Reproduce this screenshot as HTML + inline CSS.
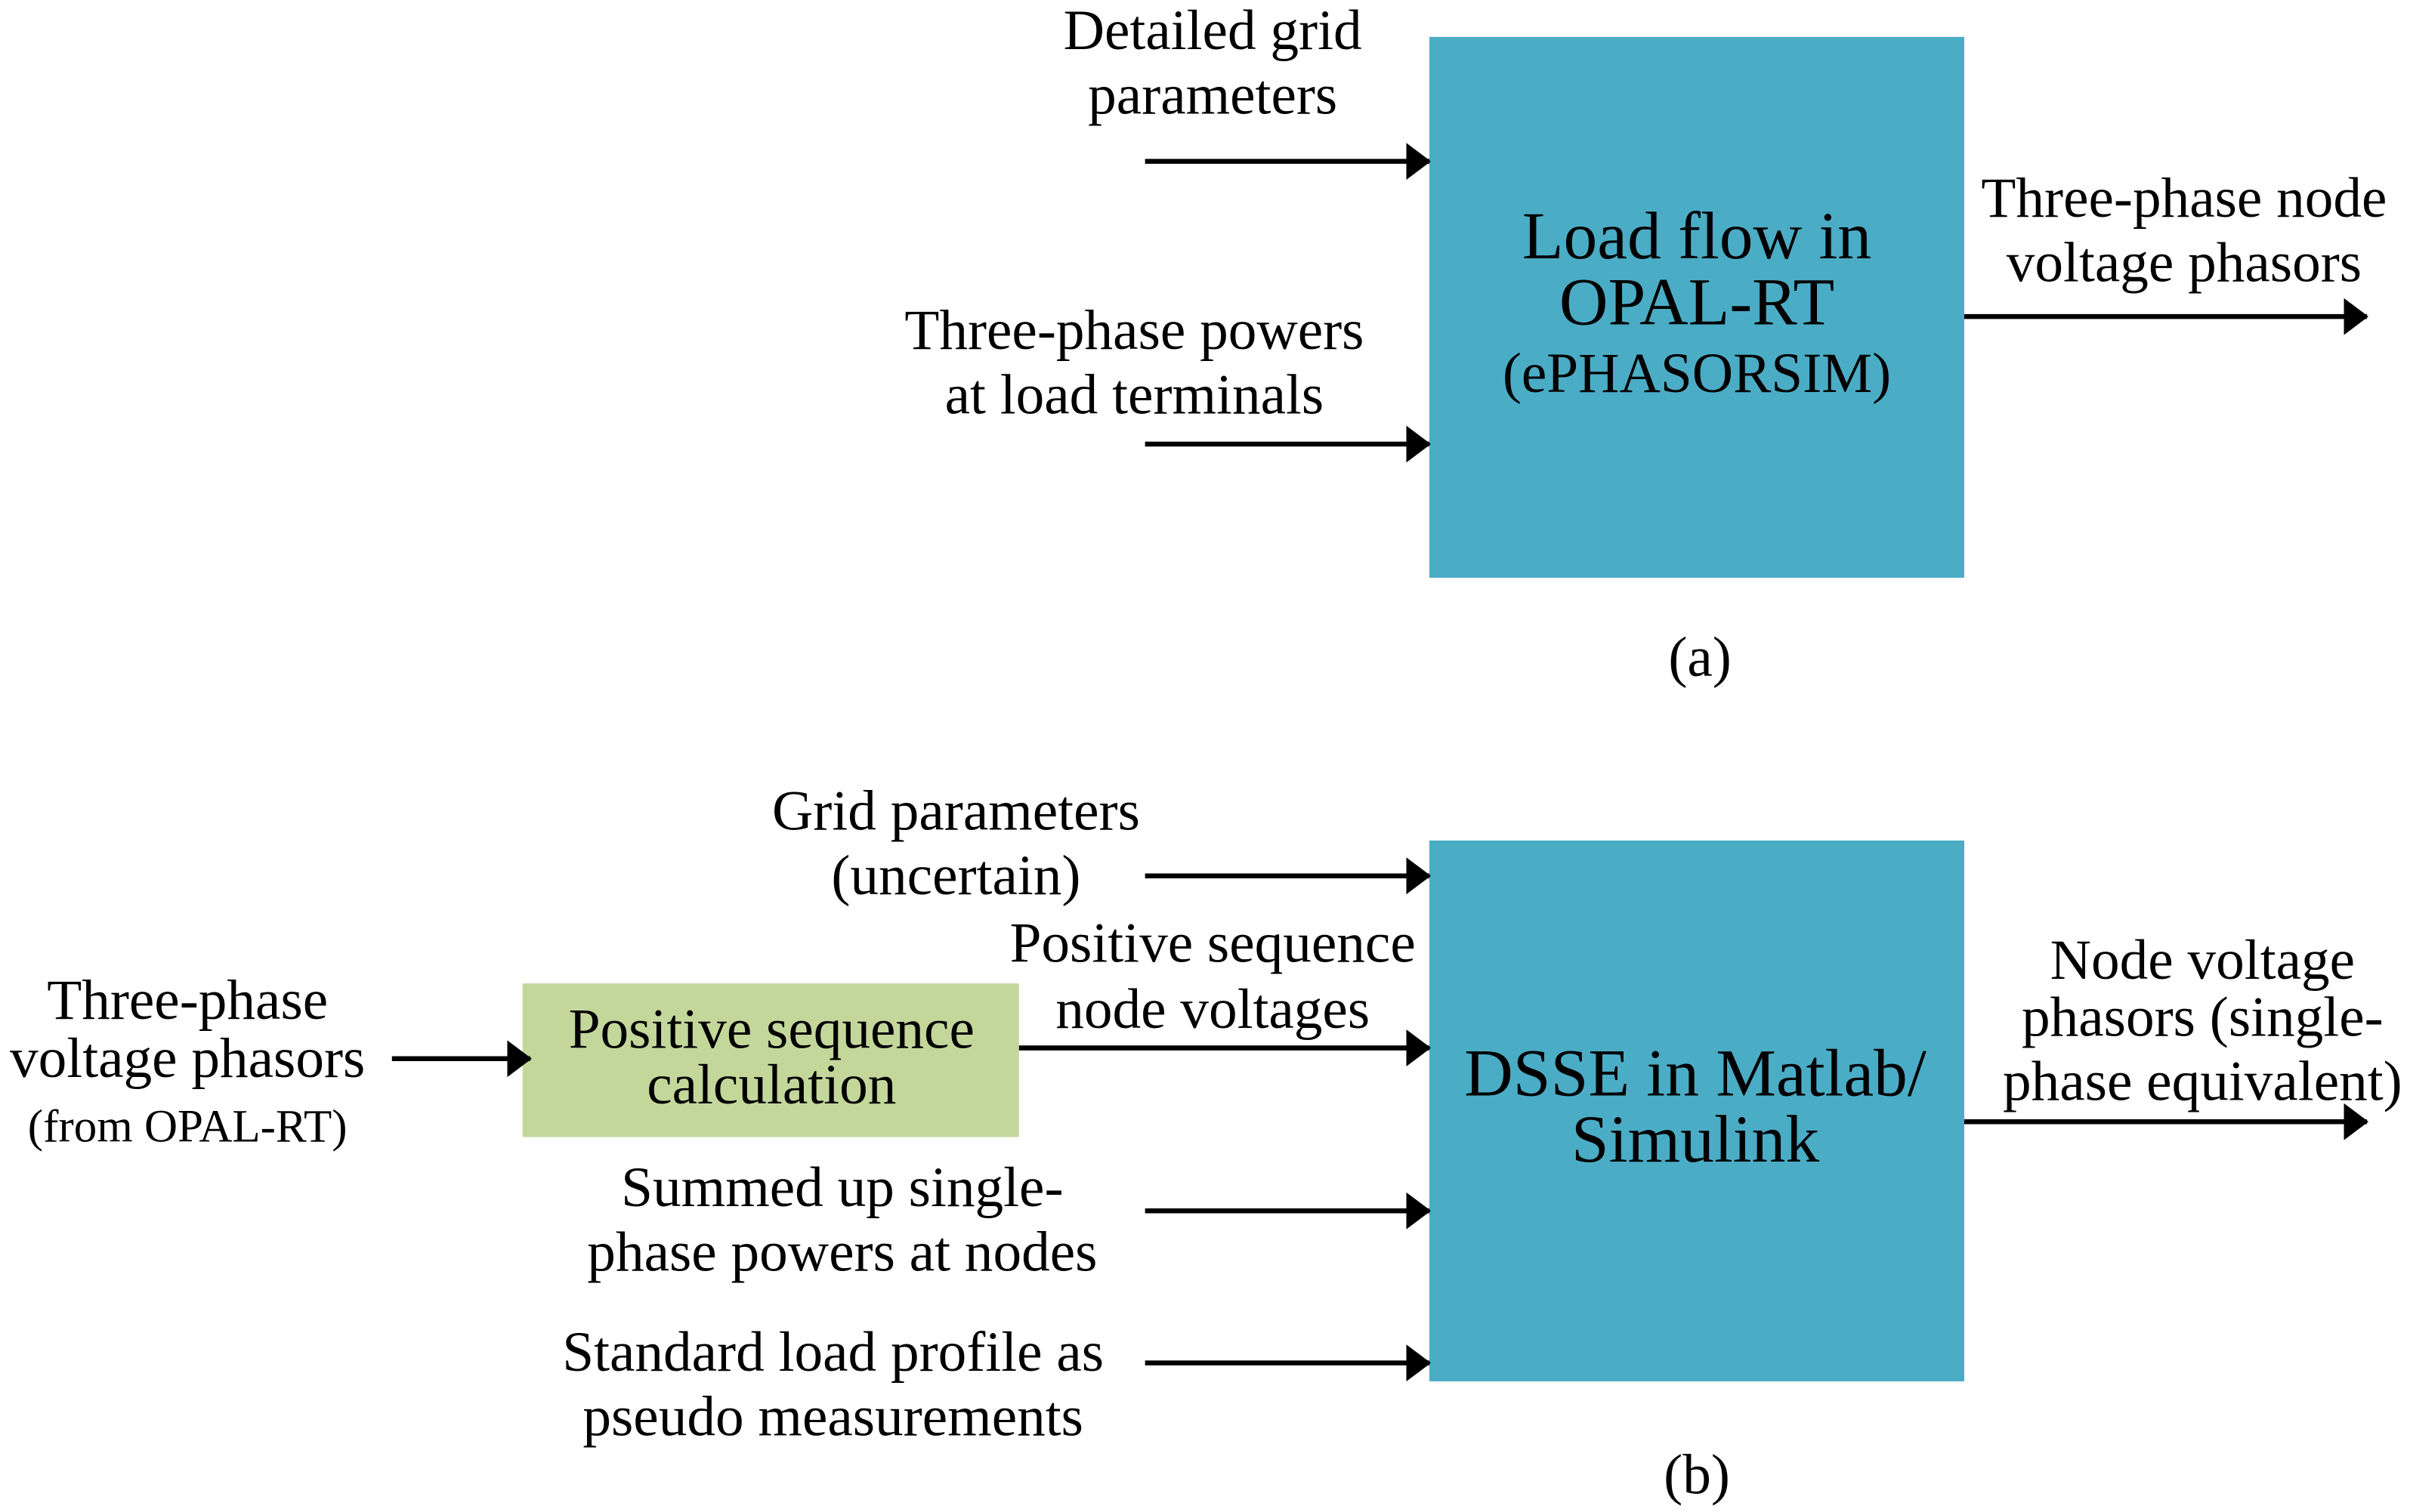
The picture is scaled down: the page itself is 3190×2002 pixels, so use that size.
<!DOCTYPE html>
<html><head><meta charset="utf-8"><style>
html,body{margin:0;padding:0;background:#fff;}
svg{display:block;}
text{font-family:"Liberation Serif",serif;fill:#000;}
</style></head><body>
<svg width="3190" height="2002" viewBox="0 0 1568 984" preserveAspectRatio="none" xmlns="http://www.w3.org/2000/svg">
<defs>
<marker id="ah" markerUnits="userSpaceOnUse" markerWidth="16" markerHeight="24" refX="15" refY="12" orient="auto">
<path d="M0,0 L16,12 L0,24 Z" fill="#000"/>
</marker>
</defs>
<rect x="930" y="24" width="348" height="352" fill="#4BACC6"/>
<rect x="930" y="547" width="348" height="352" fill="#4BACC6"/>
<rect x="340" y="640" width="323" height="100" fill="#C4D79B"/>
<g stroke="#000" stroke-width="3.2" marker-end="url(#ah)" fill="none">
<line x1="745" y1="105" x2="930" y2="105"/>
<line x1="745" y1="289" x2="930" y2="289"/>
<line x1="1278" y1="206" x2="1540" y2="206"/>
<line x1="745" y1="570" x2="930" y2="570"/>
<line x1="663" y1="682" x2="930" y2="682"/>
<line x1="745" y1="788" x2="930" y2="788"/>
<line x1="745" y1="887" x2="930" y2="887"/>
<line x1="255" y1="689" x2="345" y2="689"/>
<line x1="1278" y1="730" x2="1540" y2="730"/>
</g>
<g font-size="37" text-anchor="middle">
<text x="789" y="32">Detailed grid</text>
<text x="789" y="74">parameters</text>
<text x="738" y="227">Three-phase powers</text>
<text x="738" y="269">at load terminals</text>
<text x="1421" y="141">Three-phase node</text>
<text x="1421" y="183">voltage phasors</text>
<text x="1106" y="440">(a)</text>
<text x="622" y="540">Grid parameters</text>
<text x="622" y="582">(uncertain)</text>
<text x="789" y="626">Positive sequence</text>
<text x="789" y="669">node voltages</text>
<text x="122" y="663">Three-phase</text>
<text x="122" y="701">voltage phasors</text>
<text x="502" y="682">Positive sequence</text>
<text x="502" y="718">calculation</text>
<text x="548" y="785">Summed up single-</text>
<text x="548" y="827">phase powers at nodes</text>
<text x="542" y="892">Standard load profile as</text>
<text x="542" y="934">pseudo measurements</text>
<text x="1433" y="637">Node voltage</text>
<text x="1433" y="674">phasors (single-</text>
<text x="1433" y="716">phase equivalent)</text>
<text x="1104" y="972">(b)</text>
</g>
<text x="122" y="743" font-size="30" text-anchor="middle">(from OPAL-RT)</text>
<g font-size="44" text-anchor="middle">
<text x="1104" y="168">Load flow in</text>
<text x="1104" y="211">OPAL-RT</text>
<text x="1103" y="713">DSSE in Matlab/</text>
<text x="1103" y="756">Simulink</text>
</g>
<text x="1104" y="255" font-size="37" text-anchor="middle">(ePHASORSIM)</text>
</svg>
</body></html>
